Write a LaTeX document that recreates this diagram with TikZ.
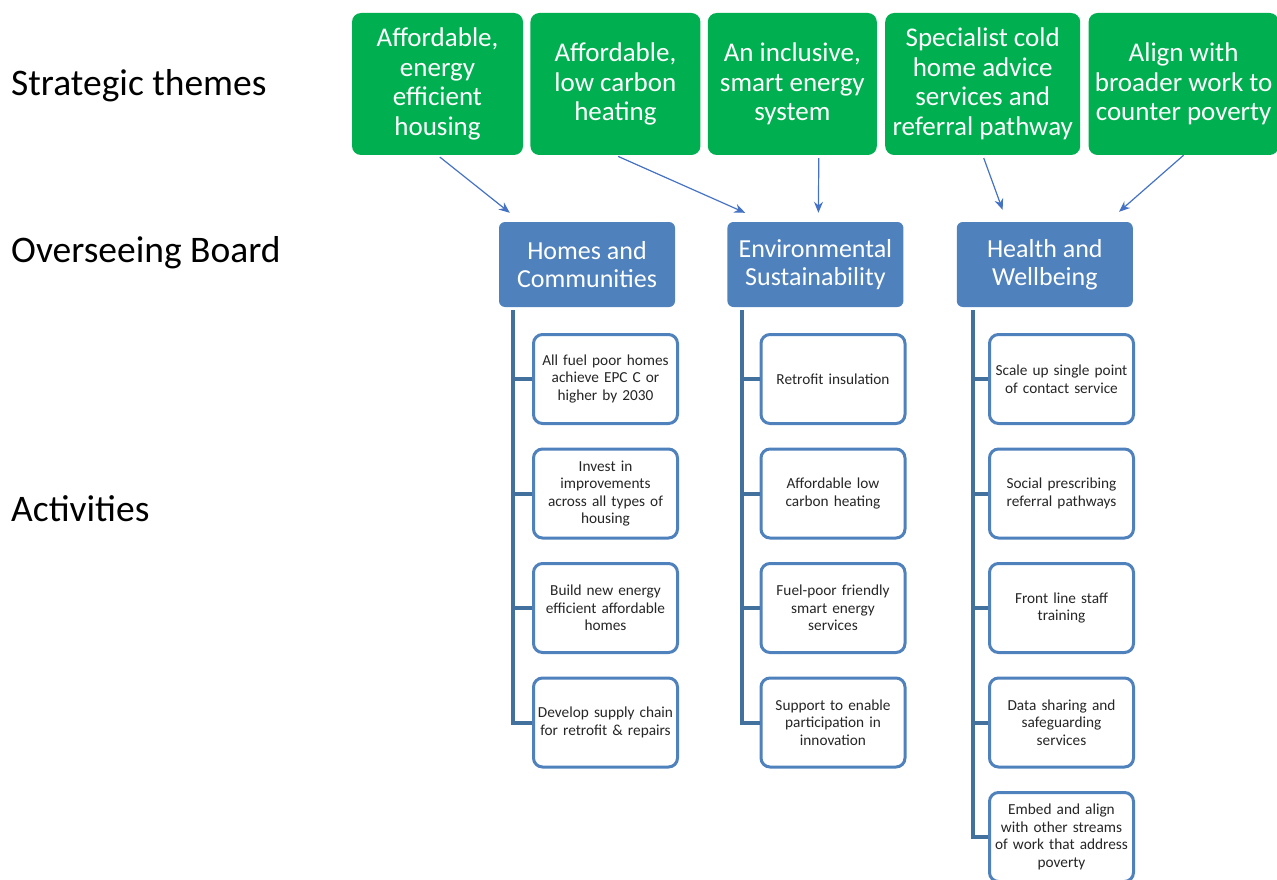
\documentclass[tikz,border=0pt]{standalone}
\usepackage{fontspec}
\setmainfont{Carlito}
\usetikzlibrary{positioning,arrows.meta}
\definecolor{themegreen}{HTML}{00B050}
\definecolor{boardblue}{HTML}{4F81BD}
\definecolor{linkblue}{HTML}{4472C4}
\definecolor{trunkblue}{HTML}{41719C}

\begin{document}
\begin{tikzpicture}[x=1pt, y=-1pt, node distance=7pt,
	rowname/.style = {anchor=base west, inner sep=0pt, font=\fontsize{37.5}{44}\selectfont},
	theme/.style = {fill=themegreen, rounded corners=9pt, text=white, minimum height=142pt, inner sep=0pt, align=center, font=\fontsize{27}{29.5}\selectfont},
	board/.style = {fill=boardblue, rounded corners=6pt, text=white, minimum width=176pt, minimum height=85pt, align=center, font=\fontsize{26}{28.5}\selectfont},
	act/.style = {draw=boardblue, line width=3pt, fill=white, rounded corners=9pt, minimum width=144pt, minimum height=89pt, inner sep=2pt, text width=138pt, align=center, text=black!85, font=\fontsize{15.3}{17.5}\selectfont},
	trunk/.style = {draw=trunkblue, line width=4pt},
	link/.style = {->, draw=linkblue, line width=1.2pt},
	>={Stealth[length=11pt, width=9pt]}]
	\useasboundingbox (0,0) rectangle (1277,880);
	\node[rowname] (r1) at (11,96) {Strategic themes};
	\node[rowname] (r2) at (11,262) {Overseeing Board};
	\node[rowname] (r3) at (11,521) {Activities};
	\node[theme, minimum width=171pt] (t1) at (437.5,84) {Affordable,\\energy\\efficient\\housing};
	\node[theme, minimum width=170pt] [right=of t1] (t2) {Affordable,\\low carbon\\heating};
	\node[theme, minimum width=169pt] [right=of t2] (t3) {An inclusive,\\smart energy\\system};
	\node[theme, minimum width=195pt] [right=8pt of t3] (t4) {Specialist cold\\home advice\\services and\\referral pathway};
	\node[theme, minimum width=190pt] [right=8pt of t4] (t5) {Align with\\broader work to\\counter poverty};
	\node[board] (b1) at (587,264.5) {Homes and\\Communities};
	\node[board] [right=52pt of b1] (b2) {Environmental\\Sustainability};
	\node[board] [right=53pt of b2] (b3) {Health and\\Wellbeing};
	\draw[link, shorten <=3pt] (t1.south) -- ([xshift=11pt, yshift=9pt]b1.north west);
	\draw[link, shorten <=3pt] (t2.south) -- ([xshift=18pt, yshift=9pt]b2.north west);
	\draw[link, shorten <=3pt] ([xshift=26.5pt]t3.south) -- ([xshift=3pt, yshift=9pt]b2.north);
	\draw[link, shorten <=3pt] (t4.south) -- ([xshift=46pt, yshift=12pt]b3.north west);
	\draw[link] (t5.south) -- ([xshift=-14pt, yshift=10pt]b3.north east);
	\node[act] (hc1) at (605.5,379) {All fuel poor homes\\achieve EPC C or\\higher by 2030};
	\node[act] [below=22.5pt of hc1] (hc2) {Invest in\\improvements\\across all types of\\housing};
	\node[act] [below=22.5pt of hc2] (hc3) {Build new energy\\efficient affordable\\homes};
	\node[act] [below=22.5pt of hc3] (hc4) {Develop supply chain\\for retrofit \& repairs};
	\node[act] (es1) at (833,379) {Retrofit insulation};
	\node[act] [below=22.5pt of es1] (es2) {Affordable low\\carbon heating};
	\node[act] [below=22.5pt of es2] (es3) {Fuel-poor friendly\\smart energy\\services};
	\node[act] [below=22.5pt of es3] (es4) {Support to enable\\participation in\\innovation};
	\node[act] (hw1) at (1061.5,379) {Scale up single point\\of contact service};
	\node[act] [below=22.5pt of hw1] (hw2) {Social prescribing\\referral pathways};
	\node[act] [below=22.5pt of hw2] (hw3) {Front line staff\\training};
	\node[act] [below=22.5pt of hw3] (hw4) {Data sharing and\\safeguarding\\services};
	\node[act] [below=22.5pt of hw4] (hw5) {Embed and align\\with other streams\\of work that address\\poverty};
	\coordinate (hct) at ([xshift=14pt, yshift=-3pt]b1.south west);
	\coordinate (est) at ([xshift=15pt, yshift=-3pt]b2.south west);
	\coordinate (hwt) at ([xshift=16pt, yshift=-3pt]b3.south west);
	\draw[trunk] (hct) |- (hc4.west);
	\draw[trunk] (hc1.west -| hct) -- (hc1.west);
	\draw[trunk] (hc2.west -| hct) -- (hc2.west);
	\draw[trunk] (hc3.west -| hct) -- (hc3.west);
	\draw[trunk] (est) |- (es4.west);
	\draw[trunk] (es1.west -| est) -- (es1.west);
	\draw[trunk] (es2.west -| est) -- (es2.west);
	\draw[trunk] (es3.west -| est) -- (es3.west);
	\draw[trunk] (hwt) |- (hw5.west);
	\draw[trunk] (hw1.west -| hwt) -- (hw1.west);
	\draw[trunk] (hw2.west -| hwt) -- (hw2.west);
	\draw[trunk] (hw3.west -| hwt) -- (hw3.west);
	\draw[trunk] (hw4.west -| hwt) -- (hw4.west);
\end{tikzpicture}
\end{document}
